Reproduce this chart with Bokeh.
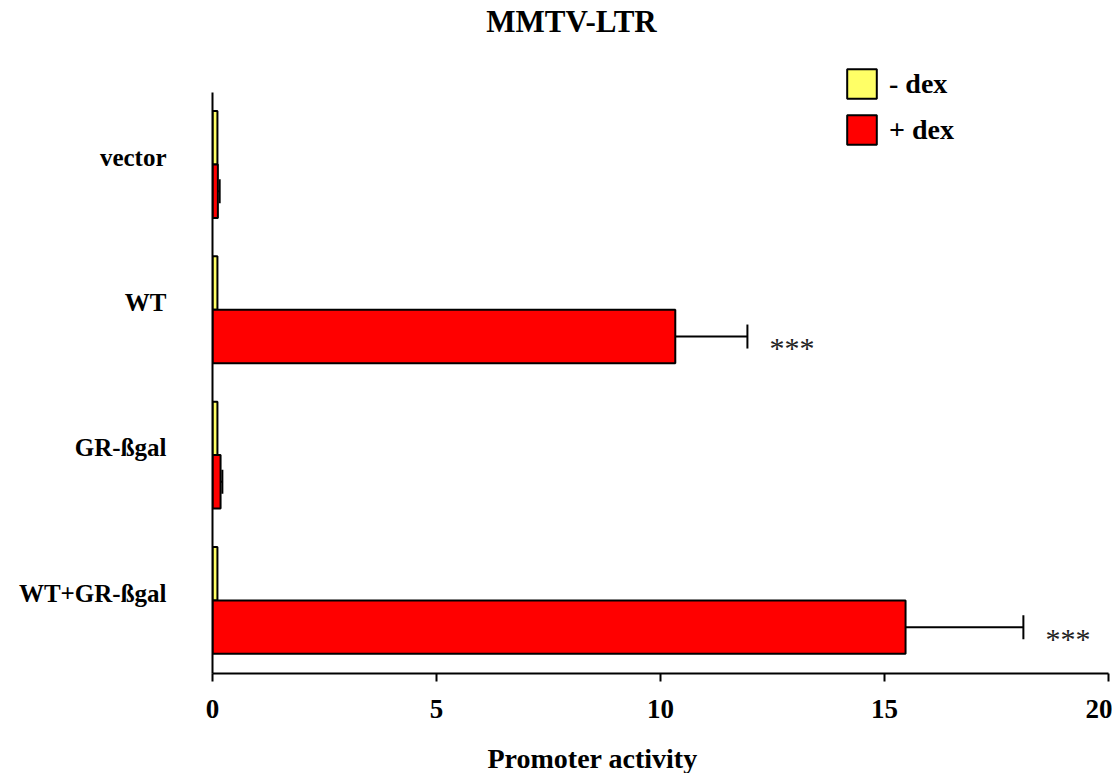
from bokeh.plotting import figure
from bokeh.models import (Range1d, FixedTicker, Legend, LegendItem, Whisker, TeeHead,
                          ColumnDataSource, Label, Title)
from bokeh.embed import file_html
from bokeh.resources import INLINE
from bokeh.core.properties import value

# ---- data ----
categories = ["vector", "WT", "GR-ßgal", "WT+GR-ßgal"]
minus_dex = [0.11, 0.11, 0.11, 0.11]
plus_dex = [0.12, 10.33, 0.18, 15.47]
plus_dex_err = [0.04, 1.61, 0.04, 2.63]
significance = ["", "***", "", "***"]
x_ticks = [0, 5, 10, 15, 20]

# ---- layout ----
W, H = 1112, 773
FL, FR, FT, FB = 212, 1108, 0, 673
AXIS_TOP_PX = 92
PITCH_PX = 145.3
X_MIN, X_MAX = 0, 20
BAR_H = 0.368
LABEL_LIFT = 0.05
Y_BOT = 0.4955 - (FB - AXIS_TOP_PX) / PITCH_PX
Y_TOP = 0.4955 + (AXIS_TOP_PX - FT) / PITCH_PX

def px_x(px):
    return X_MIN + (px - FL) / (FR - FL) * (X_MAX - X_MIN)

def px_y(py):
    return Y_TOP - (py - FT) / (FB - FT) * (Y_TOP - Y_BOT)

pos = [-i for i in range(len(categories))]
yellow_y = [p + BAR_H / 2 for p in pos]
red_y = [p - BAR_H / 2 for p in pos]
upper = [v + e for v, e in zip(plus_dex, plus_dex_err)]
label_pos = [p + LABEL_LIFT for p in pos]

src_y = ColumnDataSource(dict(y=yellow_y, v=minus_dex))
src_r = ColumnDataSource(dict(y=red_y, v=plus_dex, lo=plus_dex, hi=upper, sig=significance))

p = figure(width=W, height=H, output_backend="svg", toolbar_location=None,
           x_range=Range1d(X_MIN, X_MAX), y_range=Range1d(Y_BOT, Y_TOP),
           min_border_left=FL, min_border_right=W - FR, min_border_top=FT,
           min_border_bottom=H - FB)
p.title.visible = False
p.outline_line_color = None
p.xgrid.visible = False
p.ygrid.visible = False
p.background_fill_color = "white"
p.border_fill_color = "white"

ry = p.hbar(y="y", left=0, right="v", height=BAR_H, source=src_y,
            fill_color="#FFFF66", line_color="black", line_width=2)
rr = p.hbar(y="y", left=0, right="v", height=BAR_H, source=src_r,
            fill_color="#FF0000", line_color="black", line_width=2)

wh = Whisker(source=src_r, base="y", lower="lo", upper="hi", dimension="width",
             line_color="black", line_width=2, lower_head=None,
             upper_head=TeeHead(size=24, line_width=2, line_color="black"))
p.add_layout(wh)

p.text(x="hi", y="y", text="sig", source=src_r, x_offset=22, y_offset=11,
       text_font=value("Liberation Serif"), text_font_size="30px",
       text_baseline="alphabetic", text_align="left", text_color="#222222")

# axes
xa = p.xaxis[0]
xa.ticker = FixedTicker(ticks=x_ticks)
xa.axis_line_width = 2
xa.major_tick_line_width = 2
xa.major_tick_out = 8
xa.major_tick_in = 0
xa.minor_tick_out = 0
xa.minor_tick_in = 0
xa.major_label_text_font = "Liberation Serif"
xa.major_label_text_font_style = "bold"
xa.major_label_text_font_size = "27px"
xa.major_label_text_color = "black"
xa.major_label_standoff = 18
# invisible spacer label so that the axis title below sits lower
xa.axis_label = " "
xa.axis_label_text_font_size = "10px"
xa.axis_label_standoff = 6

ya = p.yaxis[0]
ya.ticker = FixedTicker(ticks=label_pos)
ya.major_label_overrides = {k: c for k, c in zip(label_pos, categories)}
ya.bounds = (Y_BOT, px_y(AXIS_TOP_PX))
ya.axis_line_width = 2
ya.major_tick_out = 0
ya.major_tick_in = 0
ya.minor_tick_out = 0
ya.minor_tick_in = 0
ya.major_label_text_font = "Liberation Serif"
ya.major_label_text_font_style = "bold"
ya.major_label_text_font_size = "25px"
ya.major_label_text_color = "black"
ya.major_label_standoff = 46

# title (inside the frame area above the axis)
p.add_layout(Label(x=px_x(571), y=px_y(21), text="MMTV-LTR", text_align="center",
                   text_baseline="middle", text_font="Liberation Serif",
                   text_font_style="bold", text_font_size="31px", text_color="black"))
# x-axis title
p.add_layout(Title(text="Promoter activity", align="left", offset=275, standoff=0,
                   text_font="Liberation Serif", text_font_style="bold",
                   text_font_size="28px", text_color="black"), "below")

legend = Legend(items=[LegendItem(label="- dex", renderers=[ry]),
                       LegendItem(label="+ dex", renderers=[rr])],
                location=(631, 525), orientation="vertical",
                glyph_width=37, glyph_height=37, spacing=9, padding=0, margin=0,
                label_standoff=9, label_height=37,
                label_text_font="Liberation Serif", label_text_font_style="bold",
                label_text_font_size="28px", label_text_color="black",
                border_line_color=None, background_fill_alpha=0)
p.add_layout(legend)

open("out.html", "w").write(file_html(p, INLINE))
